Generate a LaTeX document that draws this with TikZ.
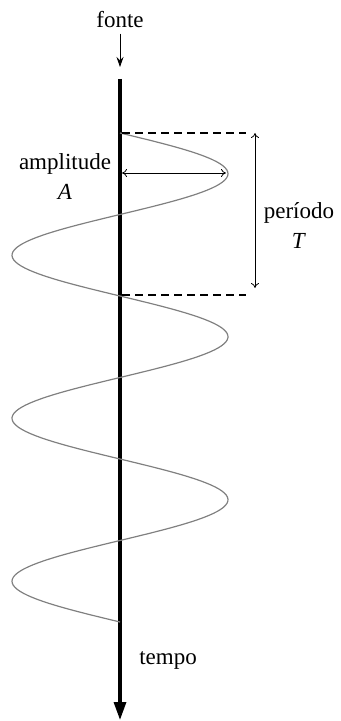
\documentclass[tikz,border=0pt]{standalone}
\usepackage{fontspec}
\setmainfont{Liberation Serif}
\usepackage{tikz}
\usetikzlibrary{arrows.meta}
\definecolor{wavegray}{HTML}{808080}

\begin{document}
\begin{tikzpicture}[x=0.5pt,y=-0.5pt,font=\fontsize{11.5}{13}\selectfont,
    lbl/.style={inner sep=0pt,align=center},
    dimarrow/.style={{To[length=2.5pt,width=4pt]}-{To[length=2.5pt,width=4pt]},thin}]
  \useasboundingbox (0,0) rectangle (341,721);
  % time axis
  \coordinate (axtop) at (120,79);
  \coordinate (axbot) at (120,720);
  \draw[line width=1.6pt,-{Triangle[length=9pt,width=6pt]}] (axtop) -- (axbot);
  \node[lbl] (fonte) at (120,20) {fonte};
  \coordinate (src) at (120,67);
  \draw[-{Stealth[length=5pt,width=3.5pt]},thin] ([yshift=-2.5pt]fonte.south) -- (src);
  \node[lbl] (tempo) at (168,660) {tempo};
  % wave
  \draw[wavegray,line width=0.6pt] plot[domain=0:489,samples=240]
    ({120+108*sin(2.2086*\x)},{133+\x});
  % period marks
  \coordinate (p0) at (122,133);
  \coordinate (p1) at (122,295);
  \draw[dashed,line width=0.8pt,dash pattern=on 4pt off 2.5pt] (p0) -- ++(124,0);
  \draw[dashed,line width=0.8pt,dash pattern=on 4pt off 2.5pt] (p1) -- ++(124,0);
  \coordinate (tup) at (255,133);
  \coordinate (tdn) at (255,288);
  \draw[dimarrow] (tup) -- (tdn);
  \node[lbl] (periodo) at (299,226) {período\\[2pt]\textit{T}};
  % amplitude
  \coordinate (a0) at (122,173);
  \coordinate (a1) at (226,173);
  \draw[dimarrow] (a0) -- (a1);
  \node[lbl] (ampl) at (65,177) {amplitude\\[2pt]\textit{A}};
\end{tikzpicture}
\end{document}
